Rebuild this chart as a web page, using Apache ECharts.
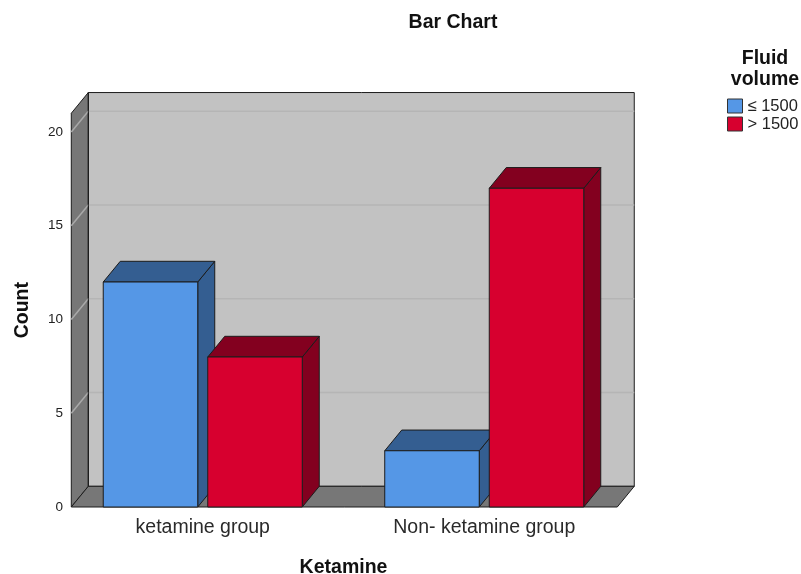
<!DOCTYPE html>
<html>
<head>
<meta charset="utf-8">
<title>Bar Chart</title>
<script src="https://cdn.jsdelivr.net/npm/echarts@6.0.0/dist/echarts.min.js"></script>
<style>
  html, body { margin: 0; padding: 0; background: #ffffff; }
  #chart { width: 801px; height: 574px; }
</style>
</head>
<body>
<div id="chart"></div>
<script>
// Counts of patients by group and fluid volume
const categories = ['ketamine group', 'Non- ketamine group'];
const seriesNames = ['\u2264 1500', '> 1500'];
const lowVolumeCounts = [12, 3];
const highVolumeCounts = [8, 17];
const countTicks = [0, 5, 10, 15, 20];
const countMax = 21;

const FONT = '"Liberation Sans", Arial, Helvetica, sans-serif';
// 3D depth offset of the plot box and the bars (pixels)
const DEPTH_X = 17;
const DEPTH_Y = -20.7;

const frontColors = ['#5597e6', '#d7002f'];
const shadeColors = ['#345e91', '#83001f'];
const edgeColor = '#1c1c1c';

// Draws the box: left wall, floor, back wall with grid lines
function renderBox(params, api) {
  const bw = api.size([1, 0])[0];
  const c0 = api.coord([0, 0]);
  const c1 = api.coord([1, 0]);
  const yTop = api.coord([0, countMax])[1];
  const y0 = c0[1];
  const left = c0[0] - 0.467 * bw;
  const right = c1[0] + 0.4725 * bw;
  const dx = DEPTH_X, dy = DEPTH_Y;
  const children = [];
  // back wall
  children.push({
    type: 'polygon',
    shape: { points: [[left + dx, yTop + dy], [right + dx, yTop + dy], [right + dx, y0 + dy], [left + dx, y0 + dy]] },
    style: { fill: '#c2c2c2', stroke: edgeColor, lineWidth: 1 }
  });
  // left wall
  children.push({
    type: 'polygon',
    shape: { points: [[left, yTop], [left + dx, yTop + dy], [left + dx, y0 + dy], [left, y0]] },
    style: { fill: '#777777', stroke: edgeColor, lineWidth: 1 }
  });
  // floor
  children.push({
    type: 'polygon',
    shape: { points: [[left, y0], [right, y0], [right + dx, y0 + dy], [left + dx, y0 + dy]] },
    style: { fill: '#777777', stroke: edgeColor, lineWidth: 1 }
  });
  // grid lines on the back wall and the left wall
  countTicks.forEach(function (t) {
    if (t === 0) return;
    const y = api.coord([0, t])[1];
    children.push({
      type: 'line',
      shape: { x1: left + dx, y1: y + dy, x2: right + dx, y2: y + dy },
      style: { stroke: '#b5b5b5', lineWidth: 1.5 }
    });
    children.push({
      type: 'line',
      shape: { x1: left, y1: y, x2: left + dx, y2: y + dy },
      style: { stroke: '#a9a9a9', lineWidth: 1.5 }
    });
  });
  // redraw left wall back edge on top
  children.push({
    type: 'line',
    shape: { x1: left + dx, y1: yTop + dy, x2: left + dx, y2: y0 + dy },
    style: { stroke: edgeColor, lineWidth: 1 }
  });
  return { type: 'group', children: children };
}

// Draws one 3D bar (front, top and right side faces)
function makeBarRenderer(slot) {
  return function (params, api) {
    const cat = api.value(0);
    const val = api.value(1);
    const bw = api.size([1, 0])[0];
    const barW = bw * 0.3357;
    const halfGap = bw * 0.0178;
    const center = api.coord([cat, 0])[0];
    const y0 = api.coord([cat, 0])[1];
    const yt = api.coord([cat, val])[1];
    const x1 = slot === 0 ? center - halfGap - barW : center + halfGap;
    const x2 = x1 + barW;
    const dx = DEPTH_X, dy = DEPTH_Y;
    const stroke = { stroke: edgeColor, lineWidth: 1, lineJoin: 'round' };
    return {
      type: 'group',
      children: [
        {
          type: 'polygon',
          shape: { points: [[x2, yt], [x2 + dx, yt + dy], [x2 + dx, y0 + dy], [x2, y0]] },
          style: Object.assign({ fill: shadeColors[slot] }, stroke)
        },
        {
          type: 'polygon',
          shape: { points: [[x1, yt], [x2, yt], [x2 + dx, yt + dy], [x1 + dx, yt + dy]] },
          style: Object.assign({ fill: shadeColors[slot] }, stroke)
        },
        {
          type: 'rect',
          shape: { x: x1, y: yt, width: barW, height: y0 - yt },
          style: Object.assign({ fill: frontColors[slot] }, stroke)
        }
      ]
    };
  };
}

const chart = echarts.init(document.getElementById('chart'), null, { renderer: 'canvas' });

const option = {
  animation: false,
  backgroundColor: '#ffffff',
  textStyle: { fontFamily: FONT },
  grid: { left: 62, width: 563, top: 113.25, bottom: 67, containLabel: false, outerBoundsMode: 'none' },
  xAxis: {
    type: 'category',
    data: categories,
    name: 'Ketamine',
    nameLocation: 'middle',
    nameGap: 51,
    nameTextStyle: { fontFamily: FONT, fontSize: 19.5, fontWeight: 'bold', color: '#111' },
    axisLine: { show: false },
    axisTick: { show: false },
    axisLabel: { fontFamily: FONT, fontSize: 19.5, color: '#2a2a2a', margin: 11 },
    splitLine: { show: false }
  },
  yAxis: {
    type: 'value',
    min: 0,
    max: countMax,
    interval: 5,
    offset: -9,
    name: 'Count',
    nameLocation: 'middle',
    nameRotate: 90,
    nameGap: 38,
    nameTextStyle: { fontFamily: FONT, fontSize: 19.5, fontWeight: 'bold', color: '#111' },
    axisLine: { show: false },
    axisTick: { show: false },
    splitLine: { show: false },
    axisLabel: {
      fontFamily: FONT, fontSize: 13.5, color: '#222', margin: 8,
      formatter: function (v) { return countTicks.indexOf(v) >= 0 ? String(v) : ''; }
    }
  },
  legend: {
    data: seriesNames,
    orient: 'vertical',
    left: 727,
    top: 97,
    padding: 0,
    itemWidth: 15,
    itemHeight: 14,
    itemGap: 0,
    icon: 'rect',
    selectedMode: false,
    itemStyle: { borderColor: '#333', borderWidth: 1 },
    textStyle: { fontFamily: FONT, fontSize: 16.5, color: '#222', lineHeight: 18 }
  },
  graphic: [
    {
      type: 'text', x: 453, y: 23,
      style: { text: 'Bar Chart', font: 'bold 19.5px ' + FONT, fill: '#111', textAlign: 'center', textVerticalAlign: 'middle' }
    },
    {
      type: 'text', x: 765, y: 69,
      style: { text: 'Fluid\nvolume', font: 'bold 19.5px ' + FONT, fill: '#111', textAlign: 'center', textVerticalAlign: 'middle', lineHeight: 21 }
    }
  ],
  series: [
    {
      name: 'box',
      type: 'custom',
      silent: true,
      clip: false,
      z: 1,
      renderItem: renderBox,
      data: [[0, 0]]
    },
    {
      name: seriesNames[0],
      type: 'custom',
      clip: false,
      z: 2,
      itemStyle: { color: frontColors[0] },
      renderItem: makeBarRenderer(0),
      encode: { x: 0, y: 1 },
      data: lowVolumeCounts.map(function (v, i) { return [i, v]; })
    },
    {
      name: seriesNames[1],
      type: 'custom',
      clip: false,
      z: 3,
      itemStyle: { color: frontColors[1] },
      renderItem: makeBarRenderer(1),
      encode: { x: 0, y: 1 },
      data: highVolumeCounts.map(function (v, i) { return [i, v]; })
    }
  ]
};

chart.setOption(option);
</script>
</body>
</html>
